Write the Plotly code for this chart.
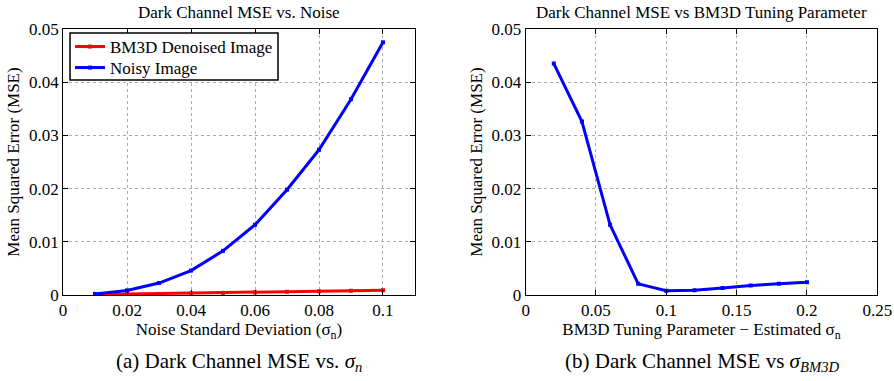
import plotly.graph_objects as go

# Left panel data
sigma_n = [0.01, 0.02, 0.03, 0.04, 0.05, 0.06, 0.07, 0.08, 0.09, 0.10]
mse_bm3d = [0.0001, 0.0002, 0.0002, 0.0003, 0.0004, 0.0005, 0.0006, 0.0007, 0.0008, 0.0009]
mse_noisy = [0.0002, 0.00086, 0.00225, 0.0046, 0.0083, 0.0132, 0.0198, 0.0273, 0.0368, 0.0475]

# Right panel data
sigma_bm3d = [0.02, 0.04, 0.06, 0.08, 0.10, 0.12, 0.14, 0.16, 0.18, 0.20]
mse_tuning = [0.0435, 0.0326, 0.0132, 0.0021, 0.0008, 0.0009, 0.0013, 0.0018, 0.0021, 0.0024]

left_xticks = [0, 0.02, 0.04, 0.06, 0.08, 0.1]
left_xticklabels = ["0", "0.02", "0.04", "0.06", "0.08", "0.1"]
right_xticks = [0, 0.05, 0.1, 0.15, 0.2, 0.25]
right_xticklabels = ["0", "0.05", "0.1", "0.15", "0.2", "0.25"]
yticks = [0, 0.01, 0.02, 0.03, 0.04, 0.05]
yticklabels = ["0", "0.01", "0.02", "0.03", "0.04", "0.05"]

SERIF = "Liberation Serif"
W, H = 894, 381

fig = go.Figure()
fig.add_trace(go.Scatter(x=sigma_n, y=mse_bm3d, mode="lines+markers", name="BM3D Denoised Image",
                         line=dict(color="#ff0000", width=3), marker=dict(symbol="square", size=4),
                         xaxis="x", yaxis="y", legend="legend"))
fig.add_trace(go.Scatter(x=sigma_n, y=mse_noisy, mode="lines+markers", name="Noisy Image",
                         line=dict(color="#0000ff", width=3), marker=dict(symbol="square", size=4),
                         xaxis="x", yaxis="y", legend="legend2"))
fig.add_trace(go.Scatter(x=sigma_bm3d, y=mse_tuning, mode="lines+markers", showlegend=False,
                         line=dict(color="#0000ff", width=3), marker=dict(symbol="square", size=4),
                         xaxis="x2", yaxis="y2"))

axis_common = dict(showline=True, linecolor="black", linewidth=1, mirror="ticks",
                   ticks="inside", ticklen=5, tickcolor="black", automargin=False,
                   showgrid=True, gridcolor="#ababab", griddash="dot", gridwidth=1,
                   zeroline=False, tickfont=dict(family=SERIF, size=17, color="black"))

legend_common = dict(xanchor="left", yanchor="middle", bgcolor="rgba(0,0,0,0)", borderwidth=0,
                     font=dict(family=SERIF, size=17, color="black"), itemwidth=30)

ydom = [0.2257, 0.9239]
fig.update_layout(
    width=W, height=H,
    margin=dict(l=0, r=0, t=0, b=0),
    paper_bgcolor="white", plot_bgcolor="white",
    font=dict(family=SERIF, color="black"),
    xaxis=dict(domain=[0.0705, 0.4642], range=[0, 0.11], tickvals=left_xticks, ticktext=left_xticklabels,
               title=dict(text="Noise Standard Deviation (σ<sub>n</sub>)", font=dict(family=SERIF, size=17), standoff=0),
               anchor="y", **axis_common),
    yaxis=dict(domain=ydom, range=[0, 0.05], tickvals=yticks, ticktext=yticklabels,
               title=dict(text="Mean Squared Error (MSE)", font=dict(family=SERIF, size=17), standoff=4),
               anchor="x", **axis_common),
    xaxis2=dict(domain=[0.588, 0.9813], range=[0, 0.25], tickvals=right_xticks, ticktext=right_xticklabels,
                title=dict(text="BM3D Tuning Parameter − Estimated σ<sub>n</sub>", font=dict(family=SERIF, size=17), standoff=0),
                anchor="y2", **axis_common),
    yaxis2=dict(domain=ydom, range=[0, 0.05], tickvals=yticks, ticktext=yticklabels,
                title=dict(text="Mean Squared Error (MSE)", font=dict(family=SERIF, size=17), standoff=4),
                anchor="x2", **axis_common),
    legend=dict(x=70 / W, y=(H - 47) / H, **legend_common),
    legend2=dict(x=70 / W, y=(H - 68) / H, **legend_common),
    showlegend=True,
)

# legend frame
fig.add_shape(type="rect", xref="paper", yref="paper", x0=70 / W, x1=278 / W, y0=(H - 80) / H, y1=(H - 33) / H,
              line=dict(color="black", width=1.5), fillcolor="white", layer="above")

fig.add_annotation(text="Dark Channel MSE vs. Noise", x=0.2674, y=(H - 12) / H, xref="paper", yref="paper",
                   showarrow=False, font=dict(family=SERIF, size=17), xanchor="center", yanchor="middle")
fig.add_annotation(text="Dark Channel MSE vs BM3D Tuning Parameter", x=0.7847, y=(H - 12) / H,
                   xref="paper", yref="paper", showarrow=False, font=dict(family=SERIF, size=17),
                   xanchor="center", yanchor="middle")
fig.add_annotation(text="(a) Dark Channel MSE vs. <i>σ<sub>n</sub></i>", x=0.2674, y=(H - 362) / H,
                   xref="paper", yref="paper", showarrow=False, font=dict(family=SERIF, size=21),
                   xanchor="center", yanchor="middle")
fig.add_annotation(text="(b) Dark Channel MSE vs <i>σ<sub>BM3D</sub></i>", x=0.7847, y=(H - 362) / H,
                   xref="paper", yref="paper", showarrow=False, font=dict(family=SERIF, size=21),
                   xanchor="center", yanchor="middle")

fig.write_html("out.html", config={"displayModeBar": False},
               post_script="document.body.style.margin='0px';document.body.style.overflow='hidden';")
